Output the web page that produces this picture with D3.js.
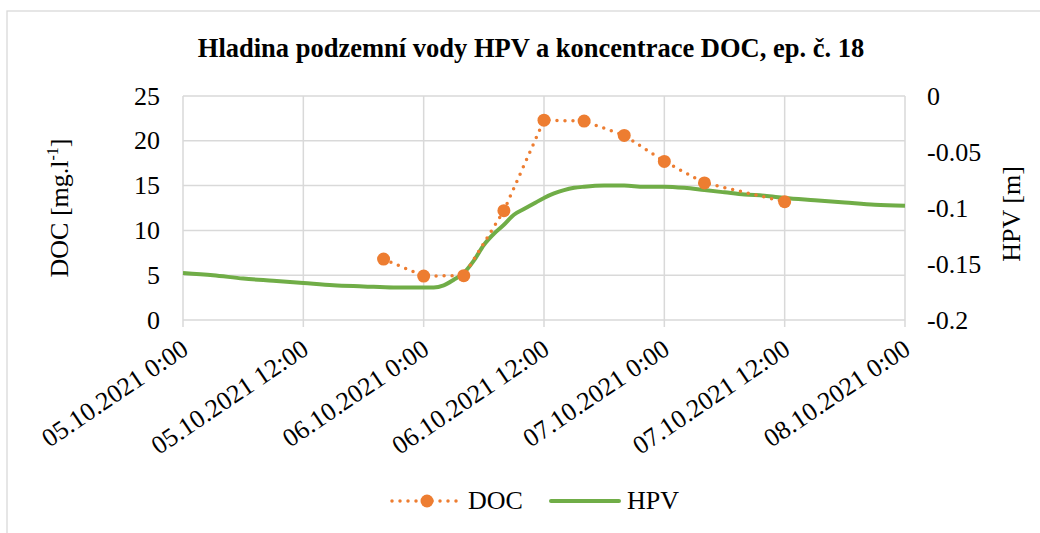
<!DOCTYPE html>
<html><head><meta charset="utf-8">
<script src="https://cdn.jsdelivr.net/npm/d3@7"></script>
<style>body{margin:0;background:#fff}</style>
</head><body><svg id="c" width="1040" height="533"></svg>
<script>
const xTickLabels = ["05.10.2021 0:00","05.10.2021 12:00","06.10.2021 0:00","06.10.2021 12:00","07.10.2021 0:00","07.10.2021 12:00","08.10.2021 0:00"];
const docTimes = ["05.10.2021 20:00","06.10.2021 0:00","06.10.2021 4:00","06.10.2021 8:00","06.10.2021 12:00","06.10.2021 16:00","06.10.2021 20:00","07.10.2021 0:00","07.10.2021 4:00","07.10.2021 12:00"];
const docValues = [6.8,4.9,4.95,12.2,22.3,22.2,20.6,17.7,15.3,13.2];
const hpvHours = [0,3,6,9,12,15,18,21,24,25.5,26,27,28,29,30,31,32,33,34,35,36,37,38,39,40,42,44,46,48,50,52,54,56,58,60,63,66,69,72];
const hpvValues = [-0.158,-0.160,-0.163,-0.165,-0.167,-0.169,-0.170,-0.171,-0.171,-0.171,-0.169,-0.164,-0.158,-0.147,-0.133,-0.123,-0.115,-0.106,-0.101,-0.096,-0.091,-0.087,-0.084,-0.082,-0.081,-0.080,-0.080,-0.081,-0.081,-0.082,-0.084,-0.086,-0.088,-0.089,-0.091,-0.093,-0.095,-0.097,-0.098];
const leftTicks = [0,5,10,15,20,25];
const rightTicks = [-0.2,-0.15,-0.1,-0.05,0];

const FONT = "'Liberation Serif', 'Times New Roman', serif";
const parse = d3.timeParse("%d.%m.%Y %H:%M");
const t0 = parse(xTickLabels[0]);
const svg = d3.select("#c").attr("font-family", FONT);
const L=183,R=905,T=96,B=320;
const x = d3.scaleTime().domain([t0, parse(xTickLabels[xTickLabels.length-1])]).range([L,R]);
const yL = d3.scaleLinear().domain([0,25]).range([B,T]);
const yR = d3.scaleLinear().domain([-0.2,0]).range([B,T]);
const grid="#d9d9d9";

svg.append("rect").attr("x",7).attr("y",11).attr("width",1100).attr("height",600).attr("fill","none").attr("stroke",grid).attr("stroke-width",1.3);

svg.append("text").attr("x",531).attr("y",57).attr("text-anchor","middle").attr("font-weight","bold").attr("font-size",26.5).attr("font-family",FONT)
  .text("Hladina podzemní vody HPV a koncentrace DOC, ep. č. 18");

// grid
svg.append("g").selectAll("line").data(leftTicks).join("line")
  .attr("x1",L).attr("x2",R).attr("y1",d=>yL(d)).attr("y2",d=>yL(d)).attr("stroke",grid).attr("stroke-width",1.5);
svg.append("g").selectAll("line").data(xTickLabels).join("line")
  .attr("x1",d=>x(parse(d))).attr("x2",d=>x(parse(d))).attr("y1",T).attr("y2",B+7).attr("stroke",grid).attr("stroke-width",1.5);

// ticks
svg.append("g").selectAll("text").data(leftTicks).join("text").attr("font-family",FONT)
  .attr("x",160).attr("y",d=>yL(d)).attr("dy","0.33em").attr("text-anchor","end").attr("font-size",26).text(d=>d);
svg.append("g").selectAll("text").data(rightTicks).join("text").attr("font-family",FONT)
  .attr("x",927).attr("y",d=>yR(d)).attr("dy","0.33em").attr("text-anchor","start").attr("font-size",26).text(d=>String(d));

// x labels
svg.append("g").selectAll("text").data(xTickLabels).join("text").attr("font-family",FONT)
  .attr("transform",d=>`translate(${x(parse(d))+7},${B+33}) rotate(-34)`)
  .attr("text-anchor","end").attr("font-size",26).text(d=>d);

// axis titles
const lt = svg.append("text").attr("transform","translate(68,208) rotate(-90)").attr("text-anchor","middle").attr("font-size",26).attr("font-family",FONT);
lt.append("tspan").text("DOC [mg.l");
lt.append("tspan").attr("font-size",16).attr("dy",-10).text("-1");
lt.append("tspan").attr("dy",10).text("]");
svg.append("text").attr("transform","translate(1020,214) rotate(-90)").attr("text-anchor","middle").attr("font-size",26).attr("font-family",FONT).text("HPV [m]");

// HPV
const hpv = hpvHours.map((h,i)=>({t:d3.timeHour.offset(t0,h),v:hpvValues[i]}));
svg.append("path").datum(hpv).attr("fill","none").attr("stroke","#70AD47").attr("stroke-width",4).attr("stroke-linejoin","round")
  .attr("d",d3.line().x(d=>x(d.t)).y(d=>yR(d.v)).curve(d3.curveMonotoneX));

// DOC
const doc = docTimes.map((t,i)=>({t:parse(t),v:docValues[i]}));
svg.append("path").datum(doc).attr("fill","none").attr("stroke","#ED7D31").attr("stroke-width",3.5).attr("stroke-linecap","round").attr("stroke-dasharray","0 8")
  .attr("d",d3.line().x(d=>x(d.t)).y(d=>yL(d.v)));
svg.append("g").selectAll("circle").data(doc).join("circle").attr("cx",d=>x(d.t)).attr("cy",d=>yL(d.v)).attr("r",6.5).attr("fill","#ED7D31");

// legend
const lg = svg.append("g");
lg.append("line").attr("x1",392).attr("x2",457).attr("y1",501).attr("y2",501).attr("stroke","#ED7D31").attr("stroke-width",3.5).attr("stroke-linecap","round").attr("stroke-dasharray","0 8");
lg.append("circle").attr("cx",427).attr("cy",501).attr("r",6.5).attr("fill","#ED7D31");
lg.append("text").attr("x",468).attr("y",509).attr("font-size",26).attr("font-family",FONT).text("DOC");
lg.append("line").attr("x1",551).attr("x2",619).attr("y1",501).attr("y2",501).attr("stroke","#70AD47").attr("stroke-width",4).attr("stroke-linecap","round");
lg.append("text").attr("x",627).attr("y",509).attr("font-size",26).attr("font-family",FONT).text("HPV");
</script></body></html>
